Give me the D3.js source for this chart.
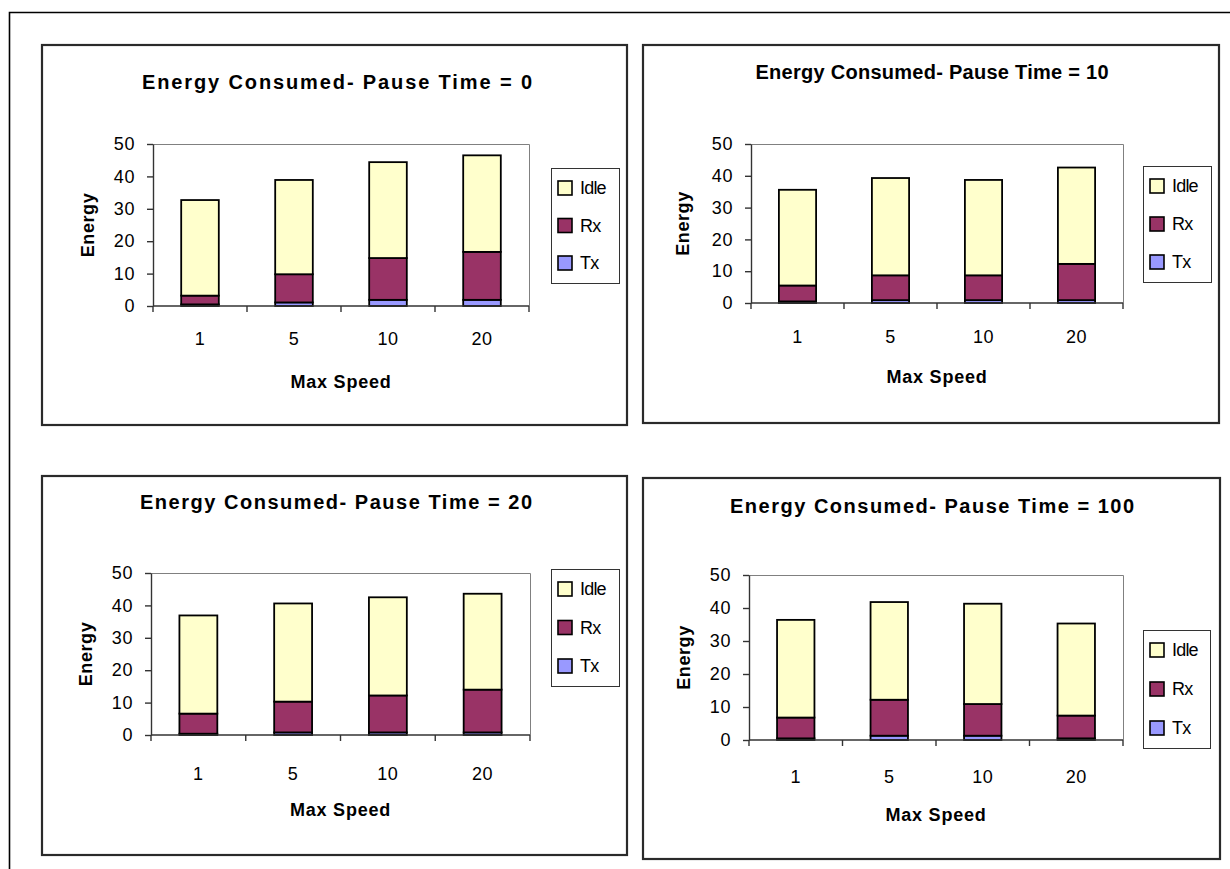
<!DOCTYPE html>
<html><head><meta charset="utf-8">
<script src="https://cdn.jsdelivr.net/npm/d3@7"></script>
<style>
body{margin:0;background:#fff}
svg{display:block}
text{font-family:"Liberation Sans",Arial,Helvetica,sans-serif;fill:#000}
</style>
</head><body>
<svg id="chart" width="1230" height="869"></svg>
<script>
// Stacked energy per max speed, one chart per pause time
const speeds = ["1", "5", "10", "20"];
const pauseTimes = [0, 10, 20, 100];
const seriesNames = ["Idle", "Rx", "Tx"];
const seriesColors = ["#FFFFCC", "#993366", "#9999FF"];
const txEnergy = [
  [0.5, 1.1, 1.9, 1.9],
  [0.5, 0.9, 0.9, 0.9],
  [0.4, 0.8, 0.8, 0.8],
  [0.5, 1.3, 1.3, 0.5]
];
const rxEnergy = [
  [2.7, 8.7, 12.9, 14.8],
  [5.0, 7.8, 7.8, 11.4],
  [6.2, 9.5, 11.4, 13.2],
  [6.3, 10.9, 9.6, 6.9]
];
const idleEnergy = [
  [29.5, 29.1, 29.6, 29.8],
  [30.1, 30.6, 30.0, 30.3],
  [30.3, 30.3, 30.3, 29.6],
  [29.6, 29.6, 30.4, 27.9]
];
const yTicks = [0, 10, 20, 30, 40, 50];

// Frame geometry for each of the four charts
const layouts = [
  {box: [42, 45, 627, 425], plot: [153, 144, 529, 306], titleX: 337, titleY: 82, titleW: 390, yLabelX: 88, xTickY: 339, xTitleY: 382, legend: [551, 168, 619, 283]},
  {box: [643, 45, 1219, 423], plot: [751, 144, 1123, 303], titleX: 932, titleY: 72, titleW: 353, yLabelX: 683, xTickY: 337, xTitleY: 377, legend: [1143, 166, 1211, 282]},
  {box: [42, 476, 627, 855], plot: [151, 573, 530, 735], titleX: 336, titleY: 502, titleW: 392, yLabelX: 86, xTickY: 774, xTitleY: 810, legend: [551, 569, 619, 686]},
  {box: [643, 478, 1220, 859], plot: [749, 575, 1123, 740], titleX: 932, titleY: 506, titleW: 404, yLabelX: 684, xTickY: 777, xTitleY: 815, legend: [1143, 630, 1210, 748]}
];

const svg = d3.select("#chart");

// outer frame (left and top edges)
svg.append("path")
  .attr("d", "M9.5,869 L9.5,12.5 L1230,12.5")
  .attr("fill", "none").attr("stroke", "#000").attr("stroke-width", 1.6);

const stackKeys = ["Tx", "Rx", "Idle"];
const keyColor = {Idle: seriesColors[0], Rx: seriesColors[1], Tx: seriesColors[2]};

pauseTimes.forEach((pt, pi) => {
  const L = layouts[pi];
  const g = svg.append("g");

  // chart frame
  g.append("rect")
    .attr("x", L.box[0]).attr("y", L.box[1])
    .attr("width", L.box[2] - L.box[0]).attr("height", L.box[3] - L.box[1])
    .attr("fill", "#fff").attr("stroke", "#2a2a2a").attr("stroke-width", 2.2);

  const [pl, ptop, pr, pb] = L.plot;
  const x = d3.scaleBand().domain(speeds).range([pl, pr]).padding(0);
  const y = d3.scaleLinear().domain([0, 50]).range([pb, ptop]);

  // plot area outline
  g.append("path")
    .attr("d", `M${pl},${ptop + 0.5} L${pr + 0.5},${ptop + 0.5} L${pr + 0.5},${pb}`)
    .attr("fill", "none").attr("stroke", "#808080").attr("stroke-width", 1);

  const rows = speeds.map((s, i) => ({speed: s, Tx: txEnergy[pi][i], Rx: rxEnergy[pi][i], Idle: idleEnergy[pi][i]}));
  const stacked = d3.stack().keys(stackKeys)(rows);
  const barW = x.bandwidth() / 2.5;

  stacked.forEach(layer => {
    g.append("g").selectAll("rect").data(layer).join("rect")
      .attr("x", d => x(d.data.speed) + (x.bandwidth() - barW) / 2)
      .attr("y", d => y(d[1]))
      .attr("width", barW)
      .attr("height", d => y(d[0]) - y(d[1]))
      .attr("fill", keyColor[layer.key])
      .attr("stroke", "#000").attr("stroke-width", 1.8);
  });

  // y axis
  const ya = g.append("g").attr("transform", `translate(${pl},0)`)
    .call(d3.axisLeft(y).tickValues(yTicks).tickSize(6).tickPadding(12).tickSizeOuter(0));
  ya.select(".domain").attr("stroke", "#333").attr("stroke-width", 1.4);
  ya.selectAll(".tick line").attr("stroke", "#333").attr("stroke-width", 1.4);
  ya.selectAll(".tick text").attr("font-size", 18).attr("font-family", "Liberation Sans, Arial, sans-serif")
    .attr("fill", "#000").attr("letter-spacing", 0.6);

  // x axis with category boundary ticks
  g.append("line").attr("x1", pl).attr("x2", pr).attr("y1", pb).attr("y2", pb)
    .attr("stroke", "#333").attr("stroke-width", 1.4);
  const bounds = speeds.map(s => x(s)).concat([x.range()[1]]);
  g.append("g").selectAll("line").data(bounds).join("line")
    .attr("x1", d => d).attr("x2", d => d).attr("y1", pb).attr("y2", pb + 6)
    .attr("stroke", "#333").attr("stroke-width", 1.4);
  g.append("g").selectAll("text").data(speeds).join("text")
    .attr("x", d => x(d) + x.bandwidth() / 2).attr("y", L.xTickY)
    .attr("text-anchor", "middle").attr("dominant-baseline", "central")
    .attr("font-size", 18).attr("letter-spacing", 0.6)
    .text(d => d);

  // titles
  g.append("text")
    .attr("x", L.titleX).attr("y", L.titleY)
    .attr("text-anchor", "middle").attr("dominant-baseline", "central")
    .attr("font-size", 20).attr("font-weight", "bold")
    .attr("textLength", L.titleW).attr("lengthAdjust", "spacing")
    .text(`Energy Consumed- Pause Time = ${pt}`);
  g.append("text")
    .attr("x", (pl + pr) / 2).attr("y", L.xTitleY)
    .attr("text-anchor", "middle").attr("dominant-baseline", "central")
    .attr("font-size", 18).attr("font-weight", "bold").attr("letter-spacing", 0.8)
    .text("Max Speed");
  g.append("text")
    .attr("transform", `translate(${L.yLabelX},${(ptop + pb) / 2}) rotate(-90)`)
    .attr("text-anchor", "middle").attr("dominant-baseline", "central")
    .attr("font-size", 18).attr("font-weight", "bold").attr("letter-spacing", 0.6)
    .text("Energy");

  // legend
  const [lx0, ly0, lx1, ly1] = L.legend;
  g.append("rect").attr("x", lx0 + 0.5).attr("y", ly0 + 0.5)
    .attr("width", lx1 - lx0).attr("height", ly1 - ly0)
    .attr("fill", "#fff").attr("stroke", "#333").attr("stroke-width", 1);
  const step = (ly1 - ly0 - 40) / (seriesNames.length - 1);
  const items = g.append("g").selectAll("g").data(seriesNames).join("g")
    .attr("transform", (d, i) => `translate(${lx0 + 7},${ly0 + 20 + i * step})`);
  items.append("rect").attr("x", 0).attr("y", -7).attr("width", 14).attr("height", 14)
    .attr("fill", (d, i) => seriesColors[i]).attr("stroke", "#000").attr("stroke-width", 1.6);
  items.append("text").attr("x", 22).attr("y", 0).attr("dominant-baseline", "central")
    .attr("font-size", 18).attr("letter-spacing", -0.8)
    .text(d => d);
});
</script>
</body></html>
